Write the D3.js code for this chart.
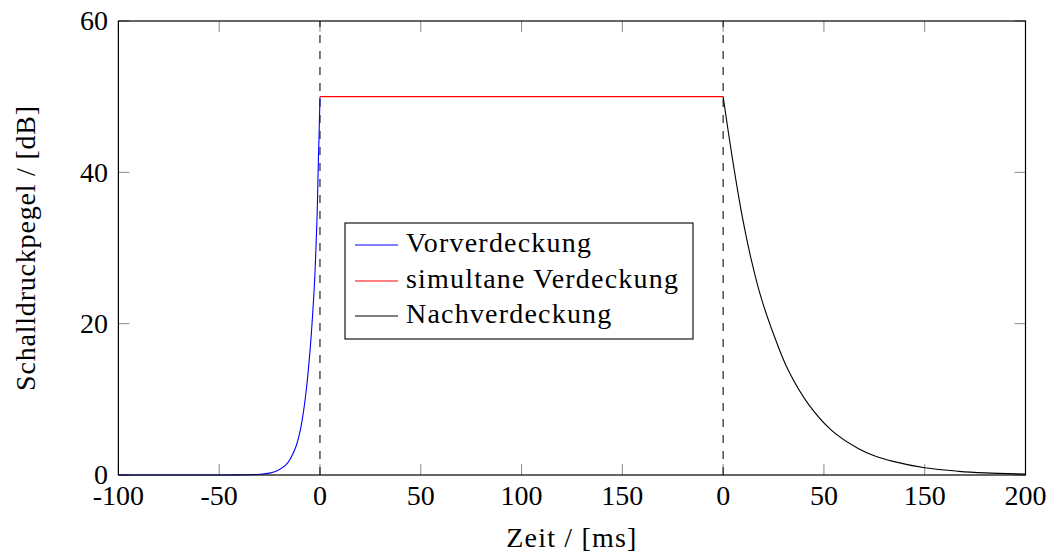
<!DOCTYPE html>
<html>
<head>
<meta charset="utf-8">
<script src="https://cdn.jsdelivr.net/npm/d3@7"></script>
<style>
  html, body { margin: 0; padding: 0; background: #fff; }
  svg { display: block; }
  text { font-family: "Liberation Serif", "DejaVu Serif", serif; fill: #000; }
</style>
</head>
<body>
<svg id="chart" width="1049" height="556"></svg>
<script>
// ---------- data ----------
const xTicks = [-100, -50, 0, 50, 100, 150, 200, 250, 300, 350];
const xTickLabels = ["-100", "-50", "0", "50", "100", "150", "0", "50", "150", "200"];
const yTicks = [0, 20, 40, 60];
const markerLines = [0, 200];

const seriesNames = ["Vorverdeckung", "simultane Verdeckung", "Nachverdeckung"];
const seriesColors = ["#0000ff", "#ff0000", "#000000"];

// Vorverdeckung (pre-masking)
const preTime  = [-100, -50, -40, -30, -25, -21, -17, -14.6, -12, -9.7, -8, -6.4, -5, -4.2, -3.5, -2.6, -2, -1.4, -0.8, -0.35, 0];
const preLevel = [0, 0, 0.02, 0.1, 0.25, 0.6, 1.3, 2.2, 3.7, 6.0, 8.7, 12.2, 16.2, 19.0, 21.8, 26.0, 30.0, 34.5, 41.5, 46.0, 50];

// simultane Verdeckung
const simTime  = [0, 200];
const simLevel = [50, 50];

// Nachverdeckung (post-masking)
const postTime  = [200, 204.2, 209.1, 214.1, 219, 225.6, 232.2, 242.2, 253.8, 267, 275.3, 284.3, 300, 317, 330, 350];
const postLevel = [50, 42.5, 34.7, 28.3, 23.3, 18.2, 13.9, 9.4, 5.9, 3.5, 2.5, 1.8, 0.95, 0.48, 0.28, 0.12];

const xTitle = "Zeit / [ms]";
const yTitle = "Schalldruckpegel / [dB]";

// ---------- layout ----------
const svg = d3.select("#chart");
const L = 118.4, R = 1025.5, T = 21, B = 475;

const x = d3.scaleLinear().domain([-100, 350]).range([L, R]);
const y = d3.scaleLinear().domain([0, 60]).range([B, T]);

const FS = 28;
const tickLen = 11;

// tick marks (inward, all four sides)
const tickG = svg.append("g").attr("stroke", "#8a8a8a").attr("stroke-width", 1);
xTicks.forEach(v => {
  tickG.append("line").attr("x1", x(v)).attr("x2", x(v)).attr("y1", B).attr("y2", B - tickLen);
  tickG.append("line").attr("x1", x(v)).attr("x2", x(v)).attr("y1", T).attr("y2", T + tickLen);
});
yTicks.forEach(v => {
  tickG.append("line").attr("x1", L).attr("x2", L + tickLen).attr("y1", y(v)).attr("y2", y(v));
  tickG.append("line").attr("x1", R).attr("x2", R - tickLen).attr("y1", y(v)).attr("y2", y(v));
});

// dashed marker lines
markerLines.forEach(v => {
  svg.append("line")
    .attr("x1", x(v)).attr("x2", x(v))
    .attr("y1", y(0)).attr("y2", y(60))
    .attr("stroke", "#111").attr("stroke-width", 1.1)
    .attr("stroke-dasharray", "8,8");
});

// series
const line = d3.line().x(d => x(d[0])).y(d => y(d[1])).curve(d3.curveCatmullRom.alpha(0.5));
const seriesData = [
  d3.zip(preTime, preLevel),
  d3.zip(simTime, simLevel),
  d3.zip(postTime, postLevel)
];
seriesData.forEach((data, i) => {
  svg.append("path")
    .datum(data)
    .attr("d", line)
    .attr("fill", "none")
    .attr("stroke", seriesColors[i])
    .attr("stroke-width", 1.1);
});

// frame
svg.append("rect")
  .attr("x", L).attr("y", T).attr("width", R - L).attr("height", B - T)
  .attr("fill", "none").attr("stroke", "#000").attr("stroke-width", 1.2);

// x tick labels
xTicks.forEach((v, i) => {
  svg.append("text")
    .attr("x", x(v)).attr("y", 505)
    .attr("text-anchor", "middle")
    .attr("font-size", FS)
    .text(xTickLabels[i]);
});

// y tick labels
yTicks.forEach(v => {
  svg.append("text")
    .attr("x", 108).attr("y", y(v))
    .attr("dy", "0.33em")
    .attr("text-anchor", "end")
    .attr("font-size", FS)
    .text(v);
});

// axis titles
svg.append("text")
  .attr("x", (L + R) / 2).attr("y", 547)
  .attr("text-anchor", "middle")
  .attr("font-size", FS)
  .attr("letter-spacing", 1.2)
  .text(xTitle);

svg.append("text")
  .attr("transform", `translate(35,${(T + B) / 2}) rotate(-90)`)
  .attr("text-anchor", "middle")
  .attr("font-size", FS)
  .attr("letter-spacing", 0.8)
  .text(yTitle);

// legend
const lg = svg.append("g");
lg.append("rect")
  .attr("x", 345).attr("y", 223).attr("width", 348).attr("height", 116)
  .attr("fill", "#fff").attr("stroke", "#000").attr("stroke-width", 1.1);
const rowY = [245, 281, 316];
seriesNames.forEach((name, i) => {
  lg.append("line")
    .attr("x1", 355).attr("x2", 398)
    .attr("y1", rowY[i]).attr("y2", rowY[i])
    .attr("stroke", seriesColors[i]).attr("stroke-width", 1.1);
  lg.append("text")
    .attr("x", 406).attr("y", rowY[i] + 7)
    .attr("font-size", FS)
    .attr("letter-spacing", 1.2)
    .text(name);
});
</script>
</body>
</html>
